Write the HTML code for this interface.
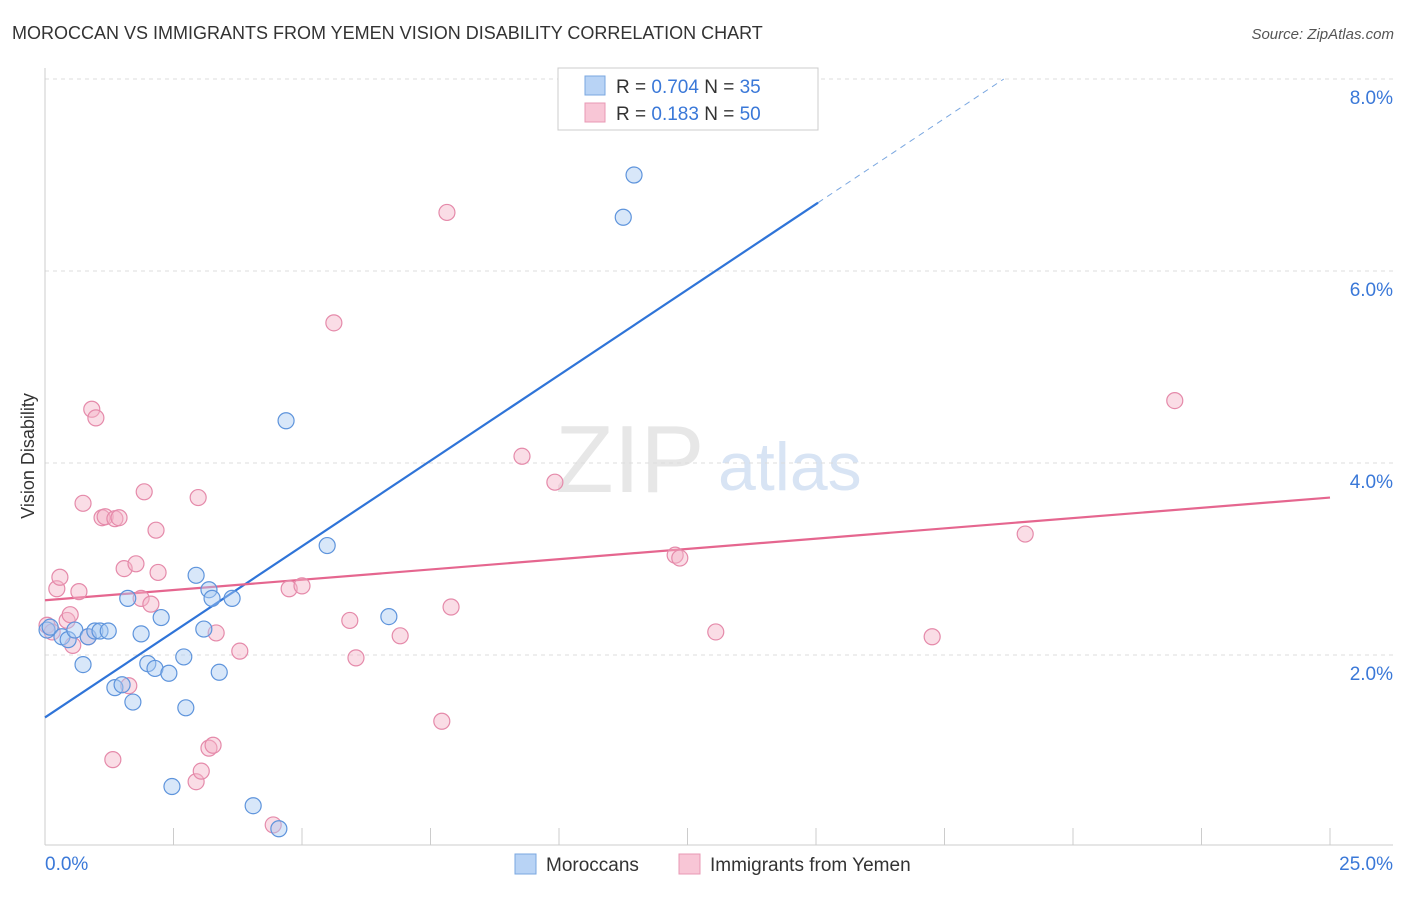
<!DOCTYPE html>
<html><head><meta charset="utf-8"><style>
body{margin:0;background:#fff;font-family:"Liberation Sans",sans-serif;}
svg text{font-family:"Liberation Sans",sans-serif;}
</style></head><body>
<svg id="c" width="1406" height="892">
<text x="12" y="39" font-size="18" fill="#333">MOROCCAN VS IMMIGRANTS FROM YEMEN VISION DISABILITY CORRELATION CHART</text>
<text x="1394" y="39" font-size="15" fill="#555" font-style="italic" text-anchor="end">Source: ZipAtlas.com</text>
<text x="34" y="456" font-size="18" fill="#333" transform="rotate(-90 34 456)" text-anchor="middle">Vision Disability</text>
<g>
<text x="555" y="492" font-size="96" fill="#ddd" font-family="Liberation Serif" opacity="0.7">ZIP</text>
<text x="718" y="490" font-size="68" fill="#c8d9f0" opacity="0.7">atlas</text>
</g>
<g id="grid"></g><g id="axes"></g><g id="lines"></g><g id="pts"></g>
<g>
<rect x="558" y="68" width="260" height="62" fill="#fff" stroke="#ccc"/>
<rect x="585" y="76" width="20" height="19" fill="#b8d3f5" stroke="#7aa7e0"/>
<text x="616" y="93" font-size="19" fill="#333">R = <tspan fill="#3a78d8">0.704</tspan>   N = <tspan fill="#3a78d8">35</tspan></text>
<rect x="585" y="103" width="20" height="19" fill="#f8c6d6" stroke="#e898b4"/>
<text x="616" y="120" font-size="19" fill="#333">R =  <tspan fill="#3a78d8">0.183</tspan>   N = <tspan fill="#3a78d8">50</tspan></text>
</g>
<g>
<rect x="515" y="854" width="21" height="20" fill="#b8d3f5" stroke="#7aa7e0"/>
<text x="546" y="871" font-size="19" fill="#333">Moroccans</text>
<rect x="679" y="854" width="21" height="20" fill="#f8c6d6" stroke="#e898b4"/>
<text x="710" y="871" font-size="19" fill="#333">Immigrants from Yemen</text>
</g>
</svg>
<script>
const blueX=[0.04,0.10,0.33,0.45,0.58,0.74,0.84,0.97,1.07,1.23,1.36,1.50,1.61,1.71,1.87,2.00,2.14,2.26,2.41,2.47,2.70,2.74,2.94,3.09,3.19,3.25,3.39,3.64,4.05,4.55,4.69,5.49,6.69,11.25,11.46];
const blueY=[2.26,2.29,2.19,2.16,2.26,1.90,2.19,2.25,2.25,2.25,1.66,1.69,2.59,1.51,2.22,1.91,1.86,2.39,1.81,0.63,1.98,1.45,2.83,2.27,2.68,2.59,1.82,2.59,0.43,0.19,4.44,3.14,2.40,6.56,7.00];
const pinkX=[0.04,0.14,0.23,0.29,0.43,0.49,0.54,0.66,0.74,0.84,0.91,0.99,1.11,1.17,1.32,1.36,1.44,1.54,1.63,1.77,1.87,1.93,2.06,2.16,2.20,2.94,2.98,3.04,3.19,3.27,3.33,3.79,4.44,4.75,5.00,5.62,5.93,6.05,6.91,7.72,7.82,7.90,9.28,9.92,12.26,12.35,13.05,17.26,19.07,21.98];
const pinkY=[2.31,2.24,2.69,2.81,2.36,2.42,2.10,2.66,3.58,2.19,4.56,4.47,3.43,3.44,0.91,3.42,3.43,2.90,1.68,2.95,2.59,3.70,2.53,3.30,2.86,0.68,3.64,0.79,1.03,1.06,2.23,2.04,0.23,2.69,2.72,5.46,2.36,1.97,2.20,1.31,6.61,2.50,4.07,3.80,3.04,3.01,2.24,2.19,3.26,4.65];
const blueTrend=[1.35,0.3565];
const pinkTrend=[2.57,0.0428];
const yTicks=[2,4,6,8];
const yTickLabels=["2.0%","4.0%","6.0%","8.0%"];
const xTicks=[0,2.5,5,7.5,10,12.5,15,17.5,20,22.5,25];
const xLabels=["0.0%","25.0%"];
const NS="http://www.w3.org/2000/svg";
const sx=v=>45+v*51.4, sy=v=>847-v*96;
function mk(t,a,p){const e=document.createElementNS(NS,t);for(const k in a)e.setAttribute(k,a[k]);document.getElementById(p).appendChild(e);return e;}
yTicks.forEach((v,i)=>{
 const l=mk('line',{x1:45,x2:1393,y1:sy(v),y2:sy(v),stroke:'#ddd','stroke-dasharray':'4 4'},'grid');
 
 
 const t=mk('text',{x:1393,y:sy(v)+25,'font-size':19,fill:'#3a78d8','text-anchor':'end'},'grid');
 t.textContent=yTickLabels[i];
 
 
});
const tl=mk('line',{x1:45,x2:1393,y1:79,y2:79,stroke:'#ddd','stroke-dasharray':'4 4'},'grid');


const ax=mk('line',{x1:45,x2:45,y1:68,y2:845,stroke:'#ccc'},'axes');


const bx=mk('line',{x1:45,x2:1393,y1:845,y2:845,stroke:'#ccc'},'axes');


xTicks.forEach(v=>{const t=mk('line',{x1:sx(v),x2:sx(v),y1:828,y2:845,stroke:'#ccc'},'axes');
 
 });
const xl0=mk('text',{x:45,y:870,'font-size':19,fill:'#3a78d8'},'axes');xl0.textContent=xLabels[0];


const xl1=mk('text',{x:1393,y:870,'font-size':19,fill:'#3a78d8','text-anchor':'end'},'axes');xl1.textContent=xLabels[1];


function pts(X,Y,fill,stroke,name){X.forEach((x,i)=>{const c=mk('circle',{cx:sx(x),cy:sy(Y[i]),r:8,fill:fill,'fill-opacity':0.45,stroke:stroke,'stroke-width':1.2},'pts');
 
 });}
pts(pinkX,pinkY,'#f5b3c8','#e58aaa','point-yemen');
pts(blueX,blueY,'#a9c9f2','#5e94dc','point-moroccans');
const bEnd=15.04, bMax=(8-blueTrend[0])/blueTrend[1];
const b1=mk('line',{x1:sx(0),y1:sy(blueTrend[0]),x2:sx(bEnd),y2:sy(blueTrend[0]+blueTrend[1]*bEnd),stroke:'#2f74d8','stroke-width':2.2},'lines');


const b2=mk('line',{x1:sx(bEnd),y1:sy(blueTrend[0]+blueTrend[1]*bEnd),x2:sx(bMax),y2:sy(8),stroke:'#7aa7e0','stroke-width':1,'stroke-dasharray':'6 5'},'lines');


const p1=mk('line',{x1:sx(0),y1:sy(pinkTrend[0]),x2:sx(25),y2:sy(pinkTrend[0]+pinkTrend[1]*25),stroke:'#e5668f','stroke-width':2.2},'lines');


</script>
</body></html>
